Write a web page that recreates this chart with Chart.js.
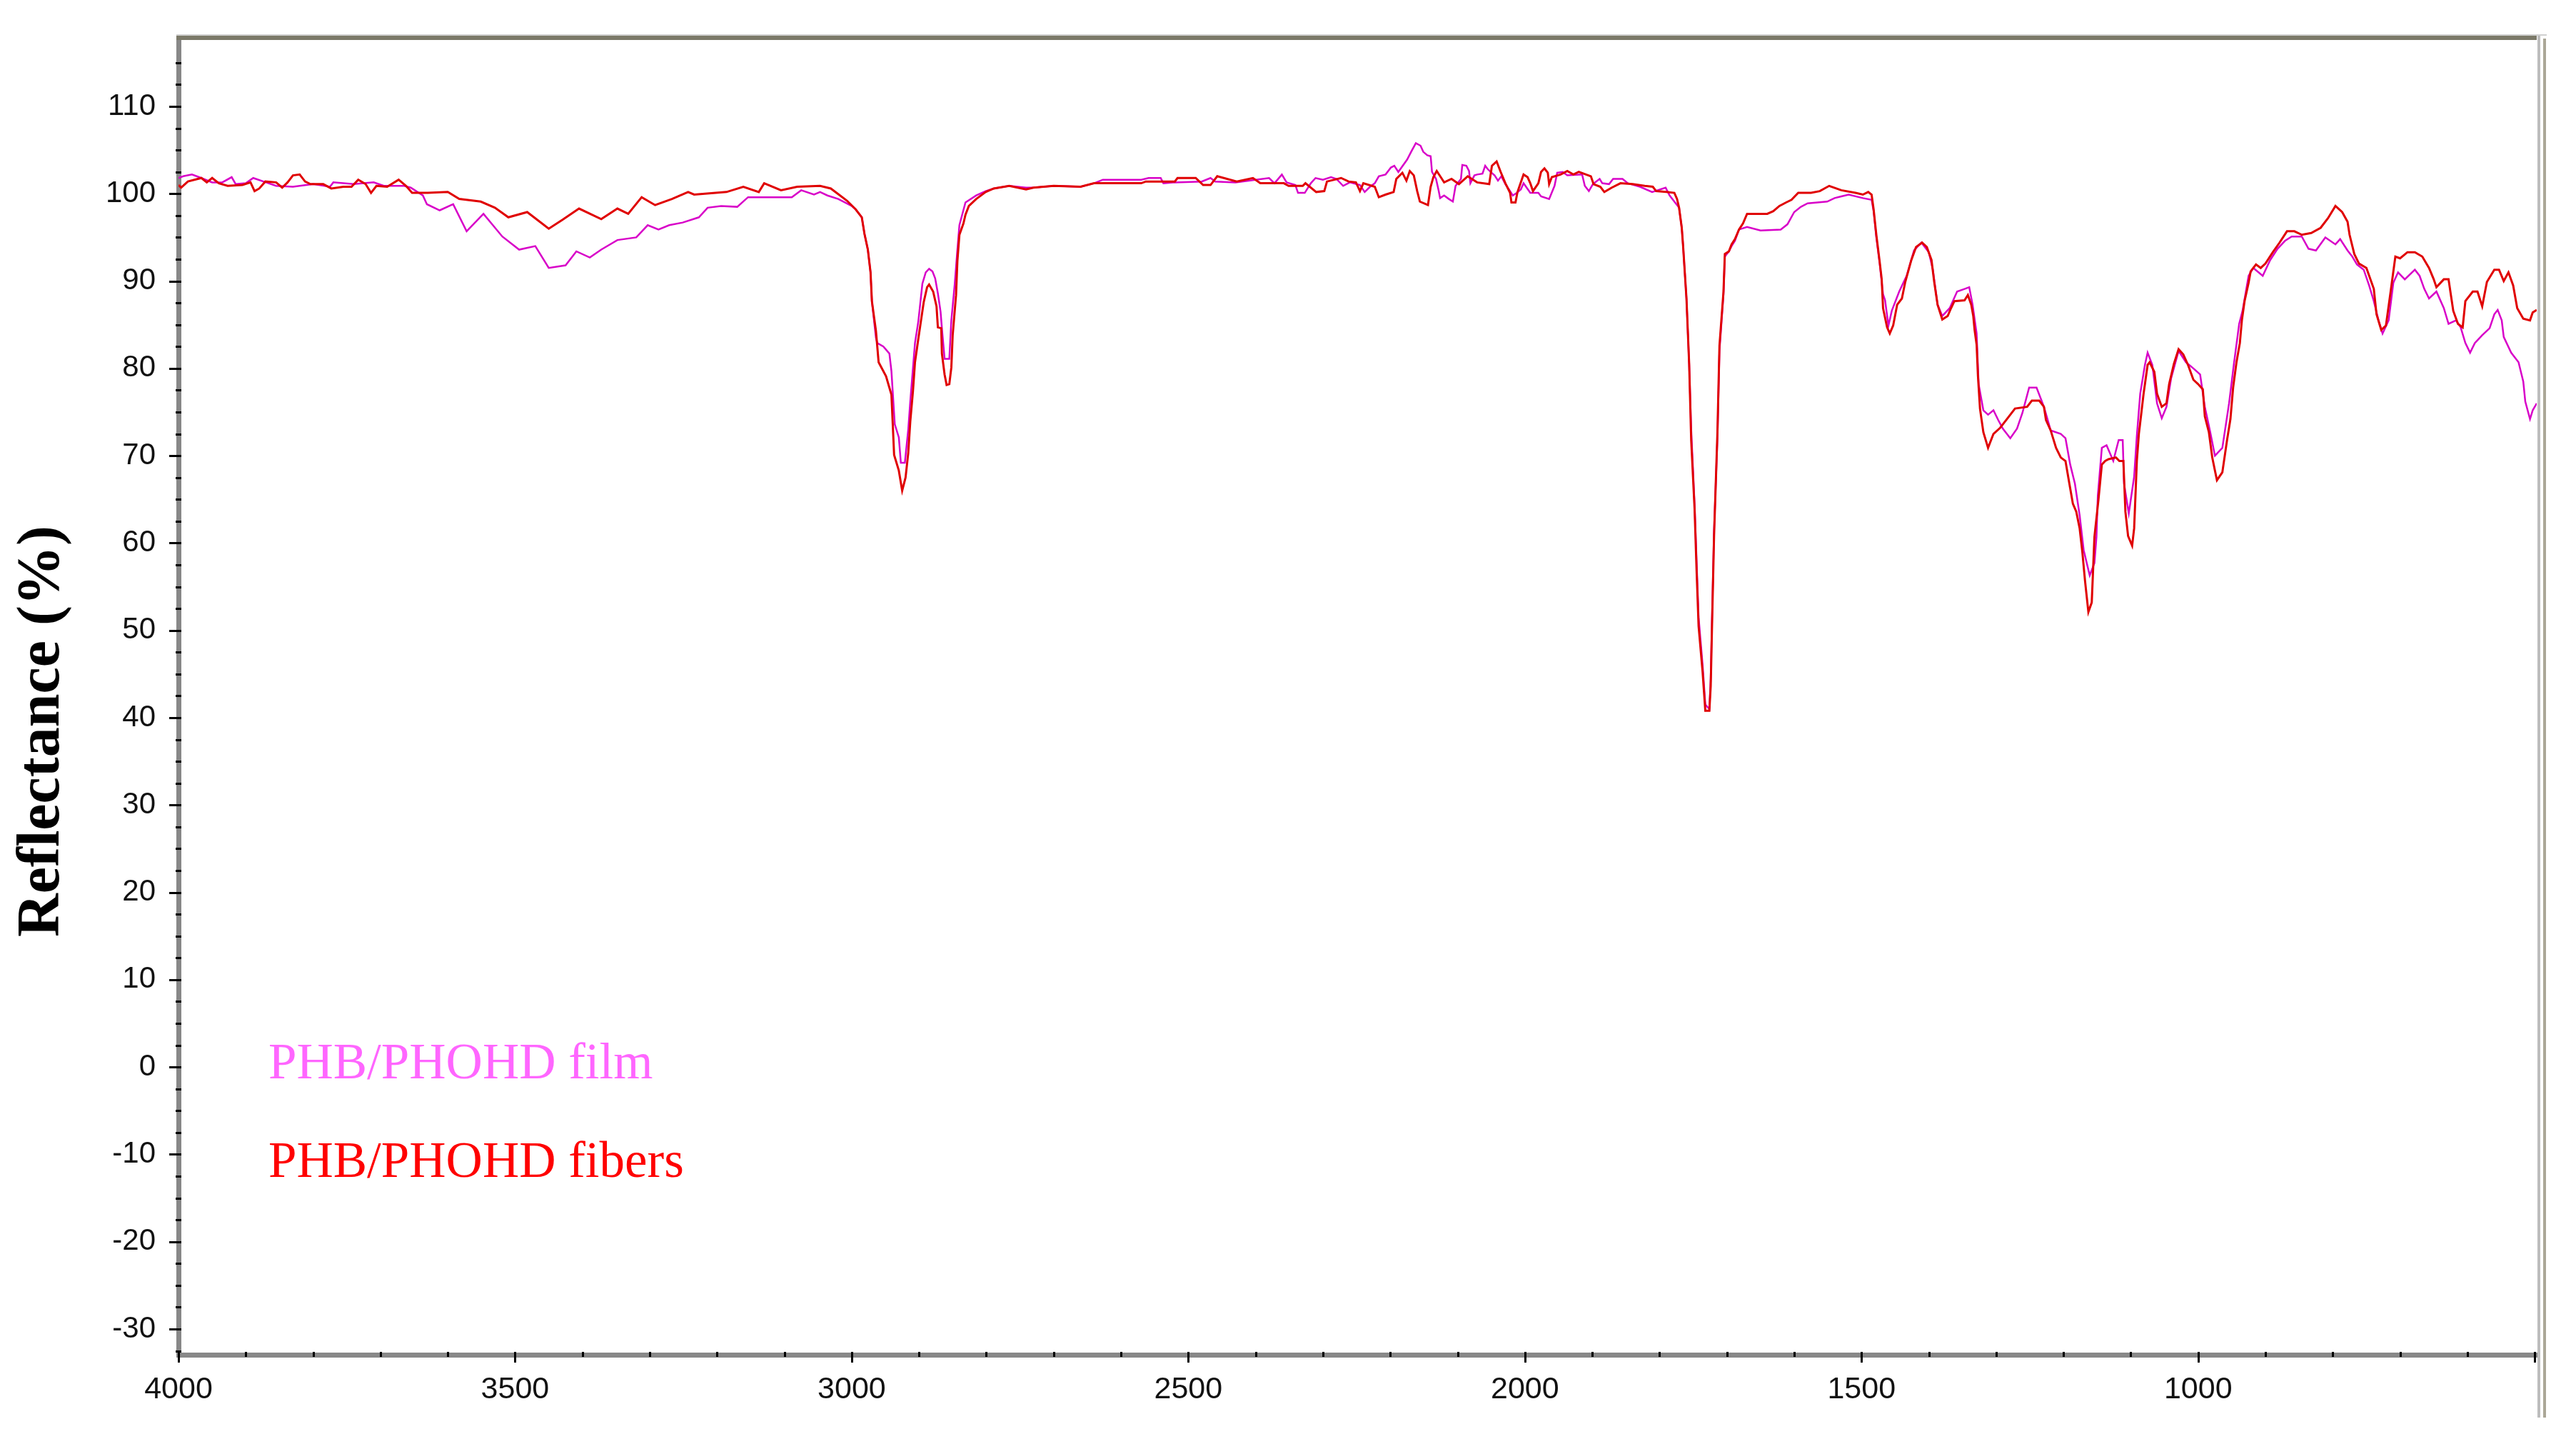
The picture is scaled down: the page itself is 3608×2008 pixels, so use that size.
<!DOCTYPE html>
<html>
<head>
<meta charset="utf-8">
<title>PHB/PHOHD reflectance</title>
<script src="https://cdn.jsdelivr.net/npm/chart.js@4.4.1/dist/chart.umd.min.js"></script>
<style>
  html, body { margin: 0; padding: 0; background: #fff; }
  canvas { display: block; }
</style>
</head>
<body>
<canvas id="spectrum" width="3608" height="2008"></canvas>
<script>
const seriesNames = ['PHB/PHOHD film', 'PHB/PHOHD fibers'];
const xTickLabels = [4000, 3500, 3000, 2500, 2000, 1500, 1000];
const yTickLabels = [110, 100, 90, 80, 70, 60, 50, 40, 30, 20, 10, 0, -10, -20, -30];

// film (magenta) spectrum, wavenumber in cm-1
const filmWavenumbers = [
  4000, 3993, 3980, 3966, 3950, 3935, 3921, 3915, 3900, 3889,
  3870, 3855, 3830, 3800, 3775, 3770, 3740, 3710, 3695, 3665,
  3655, 3637, 3631, 3612, 3592, 3572, 3547, 3519, 3494, 3470,
  3450, 3425, 3409, 3389, 3372, 3348, 3320, 3303, 3287, 3271,
  3251, 3227, 3214, 3194, 3170, 3154, 3089, 3075, 3056, 3047,
  3036, 3020, 3000, 2994, 2985, 2981, 2976, 2972, 2970, 2964,
  2962, 2953, 2944, 2941, 2936, 2930, 2927, 2921, 2916, 2913,
  2906, 2901, 2895, 2890, 2885, 2880, 2876, 2872, 2868, 2866,
  2862, 2855, 2852, 2847, 2843, 2840, 2831, 2815, 2801, 2789,
  2766, 2741, 2730, 2700, 2660, 2640, 2627, 2570, 2559, 2541,
  2537, 2520, 2480, 2467, 2460, 2430, 2380, 2372, 2361, 2354,
  2341, 2337, 2327, 2318, 2311, 2300, 2288, 2280, 2270, 2260,
  2245, 2238, 2230, 2223, 2217, 2207, 2199, 2194, 2188, 2175,
  2169, 2162, 2155, 2151, 2145, 2140, 2138, 2132, 2128, 2126,
  2120, 2113, 2107, 2103, 2095, 2093, 2087, 2083, 2081, 2075,
  2071, 2063, 2059, 2055, 2051, 2045, 2040, 2035, 2029, 2022,
  2018, 2012, 2006, 2002, 1992, 1980, 1976, 1964, 1956, 1952,
  1944, 1937, 1915, 1911, 1905, 1899, 1889, 1885, 1875, 1869,
  1855, 1847, 1829, 1811, 1791, 1785, 1777, 1771, 1767, 1765,
  1760, 1756, 1753, 1748, 1745, 1742, 1736, 1732, 1726, 1724,
  1722, 1719, 1714, 1711, 1705, 1703, 1697, 1693, 1688, 1682,
  1670, 1650, 1620, 1610, 1600, 1590, 1580, 1551, 1540, 1530,
  1519, 1498, 1485, 1482, 1478, 1473, 1468, 1465, 1460, 1455,
  1444, 1433, 1422, 1411, 1400, 1394, 1387, 1380, 1369, 1358,
  1347, 1340, 1335, 1329, 1326, 1319, 1312, 1304, 1297, 1290,
  1279, 1269, 1261, 1251, 1240, 1229, 1219, 1204, 1197, 1190,
  1183, 1176, 1170, 1161, 1154, 1151, 1149, 1143, 1136, 1126,
  1118, 1112, 1110, 1103, 1095, 1091, 1086, 1079, 1075, 1068,
  1061, 1054, 1047, 1040, 1029, 1018, 1007, 997, 990, 982,
  975, 964, 954, 947, 939, 934, 925, 918, 904, 893,
  882, 871, 861, 846, 836, 825, 811, 796, 789, 778,
  771, 764, 754, 746, 739, 732, 726, 717, 710, 703,
  693, 678, 671, 664, 657, 646, 635, 628, 617, 610,
  603, 596, 589, 578, 567, 560, 555, 549, 546, 535,
  524, 517, 514, 507, 503, 497
];
const filmReflectance = [
  101.8, 102.0, 102.2, 101.8, 101.3, 101.3, 101.9, 101.1, 101.2, 101.8,
  101.3, 100.9, 100.8, 101.1, 100.8, 101.3, 101.1, 101.3, 100.9, 100.9,
  100.7, 99.8, 98.8, 98.1, 98.8, 95.7, 97.7, 95.1, 93.6, 94.0,
  91.5, 91.8, 93.4, 92.7, 93.6, 94.7, 95.0, 96.4, 95.9, 96.4,
  96.7, 97.3, 98.4, 98.6, 98.5, 99.6, 99.6, 100.4, 99.9, 100.2,
  99.8, 99.4, 98.6, 98.2, 97.3, 95.4, 93.6, 91.0, 87.7, 83.5,
  82.9, 82.5, 81.7, 79.7, 73.6, 72.1, 69.2, 69.2, 73.0, 76.2,
  82.9, 85.4, 89.7, 91.0, 91.4, 91.1, 90.3, 88.6, 86.5, 84.6,
  81.1, 81.1, 85.5, 89.6, 93.6, 96.4, 99.0, 99.8, 100.3, 100.6,
  100.9, 100.7, 100.7, 100.9, 100.8, 101.2, 101.6, 101.6, 101.8, 101.8,
  101.2, 101.3, 101.4, 101.8, 101.4, 101.3, 101.8, 101.2, 102.2, 101.3,
  101.0, 100.1, 100.1, 101.2, 101.8, 101.6, 101.9, 101.7, 100.9, 101.3,
  101.0, 100.2, 100.8, 101.2, 102.0, 102.2, 103.0, 103.2, 102.5, 103.9,
  104.8, 105.8, 105.5, 104.8, 104.4, 104.3, 102.5, 101.7, 100.3, 99.5,
  99.8, 99.4, 99.1, 100.9, 101.7, 103.3, 103.2, 102.6, 101.2, 102.1,
  102.2, 102.3, 103.2, 102.8, 102.5, 102.1, 101.5, 102.0, 101.1, 100.3,
  99.8, 100.1, 100.5, 101.2, 100.1, 100.1, 99.7, 99.4, 100.9, 102.4,
  102.5, 102.1, 102.2, 100.9, 100.3, 101.1, 101.7, 101.2, 101.1, 101.7,
  101.7, 101.2, 100.8, 100.2, 100.7, 99.8, 99.0, 98.4, 96.1, 94.0,
  88.0, 80.5, 73.0, 64.5, 58.0, 51.5, 46.0, 41.5, 41.0, 44.5,
  51.5, 61.5, 72.0, 82.0, 88.5, 92.8, 93.4, 94.0, 94.6, 95.9,
  96.2, 95.8, 95.9, 96.5, 97.9, 98.5, 98.9, 99.1, 99.5, 99.7,
  99.9, 99.5, 99.3, 98.0, 95.0, 92.0, 88.5, 87.8, 84.9, 86.6,
  88.8, 90.6, 93.5, 94.4, 93.3, 91.3, 87.3, 86.0, 86.9, 88.8,
  89.1, 89.3, 87.3, 84.0, 78.2, 75.2, 74.7, 75.2, 74.1, 73.1,
  72.0, 73.1, 74.9, 77.8, 77.8, 75.6, 72.9, 72.5, 72.0, 69.0,
  66.8, 63.2, 59.2, 56.3, 57.7, 60.7, 65.4, 70.9, 71.2, 69.4,
  71.8, 71.8, 66.8, 63.4, 67.6, 72.3, 77.1, 80.4, 81.8, 80.4,
  76.0, 74.3, 75.6, 78.9, 82.0, 80.7, 80.0, 79.3, 75.6, 72.7,
  70.0, 70.9, 76.0, 80.4, 85.1, 86.6, 90.6, 91.5, 90.6, 92.4,
  93.7, 94.6, 95.1, 95.1, 93.7, 93.5, 95.0, 94.2, 94.8, 93.5,
  92.8, 91.9, 91.3, 89.5, 87.7, 85.5, 84.0, 85.5, 89.8, 91.0,
  90.2, 91.3, 90.6, 89.1, 88.0, 88.8, 86.9, 85.1, 85.5, 84.7,
  82.9, 81.8, 82.9, 83.8, 84.6, 86.2, 86.7, 85.5, 83.6, 81.8,
  80.7, 78.5, 76.2, 74.2, 75.2, 76.0
];

// fibers (red) spectrum
const fibersWavenumbers = [
  4000, 3996, 3986, 3966, 3958, 3950, 3940, 3927, 3905, 3893,
  3887, 3880, 3871, 3855, 3846, 3838, 3830, 3820, 3812, 3804,
  3785, 3773, 3755, 3743, 3733, 3722, 3714, 3706, 3690, 3673,
  3662, 3653, 3630, 3600, 3583, 3551, 3530, 3510, 3482, 3450,
  3430, 3405, 3372, 3348, 3332, 3312, 3292, 3267, 3243, 3234,
  3186, 3161, 3138, 3130, 3105, 3081, 3047, 3031, 3007, 2994,
  2985, 2981, 2976, 2972, 2970, 2964, 2960, 2949, 2941, 2939,
  2937, 2930, 2925, 2920, 2916, 2913, 2909, 2906, 2901, 2897,
  2893, 2888, 2885, 2879, 2874, 2872, 2867, 2866, 2862, 2859,
  2855, 2852, 2850, 2845, 2843, 2840, 2834, 2831, 2826, 2815,
  2801, 2789, 2766, 2741, 2730, 2700, 2660, 2640, 2570, 2563,
  2520, 2516, 2489, 2478, 2467, 2457, 2428, 2404, 2393, 2358,
  2351, 2330, 2326, 2310, 2298, 2294, 2273, 2262, 2251, 2245,
  2240, 2223, 2217, 2207, 2195, 2191, 2182, 2176, 2171, 2165,
  2160, 2156, 2144, 2140, 2136, 2131, 2125, 2120, 2109, 2098,
  2085, 2071, 2053, 2049, 2042, 2036, 2029, 2022, 2020, 2014,
  2011, 2002, 1996, 1992, 1988, 1980, 1976, 1971, 1966, 1964,
  1960, 1947, 1937, 1928, 1920, 1902, 1898, 1888, 1882, 1871,
  1858, 1840, 1822, 1810, 1805, 1790, 1778, 1774, 1771, 1767,
  1765, 1760, 1756, 1753, 1748, 1745, 1742, 1736, 1732, 1726,
  1724, 1722, 1719, 1714, 1711, 1705, 1703, 1697, 1693, 1688,
  1682, 1676, 1670, 1640, 1631, 1622, 1612, 1604, 1594, 1575,
  1562, 1548, 1530, 1509, 1498, 1490, 1485, 1482, 1478, 1473,
  1470, 1468, 1462, 1458, 1453, 1447, 1440, 1435, 1426, 1419,
  1410, 1403, 1396, 1392, 1387, 1380, 1372, 1367, 1362, 1347,
  1342, 1337, 1334, 1332, 1329, 1327, 1324, 1319, 1312, 1304,
  1294, 1283, 1272, 1254, 1247, 1236, 1229, 1226, 1219, 1211,
  1204, 1197, 1191, 1186, 1181, 1176, 1172, 1168, 1163, 1158,
  1154, 1148, 1143, 1138, 1133, 1122, 1117, 1111, 1108, 1104,
  1098, 1095, 1091, 1088, 1084, 1081, 1075, 1072, 1065, 1061,
  1054, 1047, 1043, 1036, 1029, 1022, 1015, 1007, 1000, 993,
  990, 984, 979, 975, 972, 964, 957, 952, 948, 943,
  938, 935, 931, 925, 922, 914, 907, 900, 889, 879,
  868, 857, 846, 832, 818, 807, 796, 786, 778, 775,
  768, 761, 750, 739, 735, 728, 721, 714, 707, 700,
  689, 678, 667, 657, 650, 646, 635, 628, 621, 614,
  607, 603, 592, 585, 578, 571, 560, 553, 546, 539,
  532, 526, 517, 507, 503, 497
];
const fibersReflectance = [
  101.0, 100.7, 101.4, 101.8, 101.3, 101.8, 101.2, 100.9, 101.0, 101.3,
  100.3, 100.6, 101.4, 101.3, 100.7, 101.3, 102.1, 102.2, 101.4, 101.1,
  101.1, 100.6, 100.8, 100.8, 101.6, 101.1, 100.1, 100.9, 100.8, 101.6,
  100.9, 100.1, 100.1, 100.2, 99.4, 99.1, 98.4, 97.3, 97.9, 96.0,
  97.0, 98.3, 97.1, 98.3, 97.7, 99.6, 98.7, 99.4, 100.2, 99.9,
  100.2, 100.8, 100.2, 101.2, 100.4, 100.8, 100.9, 100.6, 99.2, 98.2,
  97.3, 95.4, 93.6, 91.0, 87.7, 84.3, 80.7, 79.1, 77.0, 73.6,
  70.1, 68.3, 66.0, 67.5, 70.3, 73.9, 77.4, 80.7, 83.4, 85.5,
  87.6, 89.3, 89.6, 88.8, 87.1, 84.7, 84.6, 81.7, 79.3, 78.1,
  78.2, 80.1, 83.8, 88.4, 92.3, 95.3, 96.6, 97.6, 98.6, 99.4,
  100.2, 100.6, 100.9, 100.5, 100.7, 100.9, 100.8, 101.2, 101.2, 101.4,
  101.4, 101.8, 101.8, 101.0, 101.0, 102.0, 101.4, 101.8, 101.2, 101.2,
  100.9, 100.9, 101.2, 100.2, 100.3, 101.4, 101.8, 101.4, 101.3, 100.3,
  101.2, 100.8, 99.6, 99.9, 100.2, 101.7, 102.4, 101.5, 102.6, 102.1,
  100.3, 99.1, 98.7, 100.8, 101.9, 102.6, 101.9, 101.3, 101.7, 101.1,
  102.0, 101.3, 101.1, 103.2, 103.7, 102.5, 101.2, 100.1, 99.0, 99.0,
  100.2, 102.2, 101.9, 101.2, 100.3, 101.2, 102.5, 102.9, 102.4, 101.1,
  101.9, 102.2, 102.6, 102.2, 102.5, 102.0, 101.1, 100.8, 100.2, 100.7,
  101.2, 101.1, 100.9, 100.8, 100.3, 100.2, 100.1, 99.4, 98.4, 96.1,
  94.0, 88.0, 80.5, 71.8, 64.0, 56.9, 50.5, 45.2, 40.8, 40.8,
  43.6, 50.7, 60.9, 72.7, 82.6, 88.8, 93.1, 93.4, 94.2, 94.8,
  95.9, 96.6, 97.7, 97.7, 98.0, 98.6, 99.0, 99.3, 100.1, 100.1,
  100.3, 100.9, 100.4, 100.1, 99.9, 100.2, 99.9, 98.2, 95.3, 92.2,
  90.2, 86.9, 84.7, 84.0, 84.9, 87.3, 88.0, 89.9, 92.4, 93.9,
  94.4, 93.9, 92.4, 89.9, 87.3, 85.6, 86.0, 86.9, 87.7, 87.8,
  88.4, 87.3, 86.0, 84.4, 82.7, 79.1, 75.4, 72.7, 70.9, 72.5,
  73.2, 74.3, 75.4, 75.6, 76.3, 76.3, 75.6, 74.1, 72.9, 70.9,
  69.8, 69.4, 66.7, 64.5, 63.6, 61.7, 59.0, 55.7, 52.1, 53.2,
  60.7, 65.0, 69.0, 69.4, 69.6, 69.8, 69.4, 69.4, 63.6, 60.8,
  59.7, 61.7, 69.4, 72.5, 75.1, 77.1, 80.4, 80.7, 79.6, 77.1,
  75.6, 76.0, 78.2, 80.5, 82.2, 81.6, 80.4, 78.7, 78.2, 77.6,
  74.5, 72.7, 69.8, 68.3, 67.2, 68.1, 71.8, 74.2, 77.8, 80.7,
  82.9, 85.5, 87.7, 89.8, 91.1, 91.9, 91.5, 92.0, 93.3, 94.4,
  95.7, 95.7, 95.3, 95.5, 96.1, 97.2, 98.6, 97.9, 96.8, 95.3,
  93.1, 92.0, 91.5, 89.1, 86.2, 84.4, 84.9, 88.8, 92.8, 92.6,
  93.3, 93.3, 92.8, 91.5, 90.2, 89.3, 90.2, 90.2, 86.6, 85.1,
  84.7, 87.7, 88.8, 88.8, 87.1, 89.9, 91.3, 91.3, 90.0, 91.0,
  89.5, 86.9, 85.7, 85.5, 86.4, 86.7
];

const toPoints = (xs, ys) => xs.map((x, i) => ({ x: x, y: ys[i] }));

// frame, minor ticks, axis title and in-plot legend text
const decorations = {
  id: 'decorations',
  afterDraw(chart) {
    const { ctx, chartArea: a, scales: { x, y } } = chart;
    ctx.save();

    // top rule and double right rule of the plot window
    ctx.fillStyle = '#d0d0d0';
    ctx.fillRect(a.left - 3, a.top - 10, a.right - a.left + 17, 2);
    ctx.fillStyle = '#7b7969';
    ctx.fillRect(a.left - 3, a.top - 8, a.right - a.left + 3, 6);
    ctx.fillStyle = '#bdbdbd';
    ctx.fillRect(a.right + 1, a.top - 8, 4, 1935);
    ctx.fillStyle = '#aba797';
    ctx.fillRect(a.right + 9, a.top - 4, 4, 1931);

    // tick marks
    ctx.fillStyle = '#000';
    for (let v = -32.5; v <= y.max; v += 2.5) {
      const py = Math.round(y.getPixelForValue(v));
      const major = v % 10 === 0;
      ctx.fillRect(a.left - (major ? 13 : 4), py - 1, major ? 17 : 8, 3);
    }
    for (let w = 500; w <= 4000; w += 100) {
      const px = Math.round(x.getPixelForValue(w));
      const major = w % 500 === 0;
      ctx.fillRect(px - 1, a.bottom - 4, 3, major ? 15 : 7);
    }

    // y axis title
    ctx.fillStyle = '#000';
    ctx.font = 'bold 84px "Liberation Serif", "DejaVu Serif", serif';
    ctx.textAlign = 'center';
    ctx.textBaseline = 'middle';
    ctx.translate(60, 1024);
    ctx.rotate(-Math.PI / 2);
    ctx.fillText('Reflectance (%)', 0, 0);
    ctx.setTransform(1, 0, 0, 1, 0, 0);

    // legend text inside the plot
    ctx.font = '71px "Liberation Serif", "DejaVu Serif", serif';
    ctx.textAlign = 'left';
    ctx.textBaseline = 'alphabetic';
    ctx.fillStyle = '#ff66ff';
    ctx.fillText(seriesNames[0], 376, 1510);
    ctx.fillStyle = '#ff0000';
    ctx.fillText(seriesNames[1], 376, 1648);

    ctx.restore();
  }
};

new Chart(document.getElementById('spectrum'), {
  type: 'line',
  data: {
    datasets: [
      {
        label: seriesNames[0],
        data: toPoints(filmWavenumbers, filmReflectance),
        borderColor: '#d800c8',
        borderWidth: 2.5,
        pointRadius: 0,
        tension: 0,
        order: 1
      },
      {
        label: seriesNames[1],
        data: toPoints(fibersWavenumbers, fibersReflectance),
        borderColor: '#e00000',
        borderWidth: 3,
        pointRadius: 0,
        tension: 0,
        order: 0
      }
    ]
  },
  options: {
    responsive: false,
    animation: false,
    events: [],
    layout: { padding: { left: 0, right: 55, top: 58, bottom: 0 } },
    plugins: {
      legend: { display: false },
      tooltip: { enabled: false }
    },
    scales: {
      x: {
        type: 'linear',
        reverse: true,
        min: 497,
        max: 4000,
        grid: { display: false },
        border: { color: '#888888', width: 7 },
        ticks: {
          color: '#111',
          padding: 15,
          maxRotation: 0,
          font: { family: '"Liberation Sans", Arial, sans-serif', size: 43 },
          callback: v => String(v)
        },
        afterBuildTicks: s => { s.ticks = xTickLabels.map(v => ({ value: v })); },
        afterFit: s => { s.height = 111; }
      },
      y: {
        type: 'linear',
        min: -32.94,
        max: 117.44,
        grid: { display: false },
        border: { color: '#888888', width: 7 },
        ticks: {
          color: '#111',
          padding: 24,
          font: { family: '"Liberation Sans", Arial, sans-serif', size: 42 },
          callback: v => String(v)
        },
        afterBuildTicks: s => { s.ticks = yTickLabels.map(v => ({ value: v })); },
        afterFit: s => { s.width = 250; }
      }
    }
  },
  plugins: [decorations]
});
</script>
</body>
</html>
